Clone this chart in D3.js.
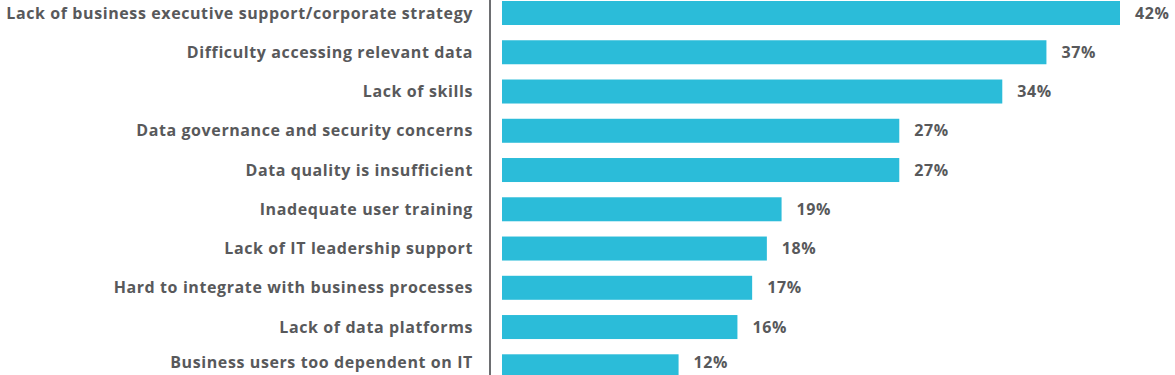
<!DOCTYPE html>
<html>
<head>
<meta charset="utf-8">
<script src="https://cdn.jsdelivr.net/npm/d3@7"></script>
<style>
  body { margin: 0; background: #fff; }
  svg text { font-family: 'Open Sans', sans-serif; font-weight: 700; fill: #58595b; letter-spacing: 0.6px; }
</style>
</head>
<body>
<div id="chart"></div>
<script>
// categories and values (percent)
const categories = [
	'Lack of business executive support/corporate strategy',
	'Difficulty accessing relevant data',
	'Lack of skills',
	'Data governance and security concerns',
	'Data quality is insufficient',
	'Inadequate user training',
	'Lack of IT leadership support',
	'Hard to integrate with business processes',
	'Lack of data platforms',
	'Business users too dependent on IT'
]
const values = [42, 37, 34, 27, 27, 19, 18, 17, 16, 12]

const width = 1175
const height = 375

const svg = d3.select('#chart')
	.append('svg')
	.attr('width', width)
	.attr('height', height)

// x scale: 0% at bar start
const x = d3.scaleLinear()
	.domain([0, 42])
	.range([502, 1120])

// y band scale, pitch ~39.25px
const y = d3.scaleBand()
	.domain(categories)
	.range([1 - 7.6, 1 - 7.6 + 39.25 * categories.length])
	.paddingInner(15.25 / 39.25)
	.paddingOuter(7.6 / 39.25)

const rows = categories.map((c, i) => ({ name: c, value: values[i] }))

// bars
svg.selectAll('.bar')
	.data(rows)
	.join('rect')
	.attr('class', 'bar')
	.attr('x', x(0))
	.attr('y', d => y(d.name))
	.attr('width', d => x(d.value) - x(0))
	.attr('height', y.bandwidth())
	.attr('fill', '#2bbcd9')

// category labels
svg.selectAll('.label')
	.data(rows)
	.join('text')
	.attr('class', 'label')
	.attr('x', 473)
	.attr('y', d => Math.min(y(d.name) + y.bandwidth() / 2, 362))
	.attr('dy', '0.35em')
	.attr('text-anchor', 'end')
	.style('font-size', '16px')
	.text(d => d.name)

// value labels
svg.selectAll('.value')
	.data(rows)
	.join('text')
	.attr('class', 'value')
	.attr('x', d => x(d.value) + 15)
	.attr('y', d => Math.min(y(d.name) + y.bandwidth() / 2, 362))
	.attr('dy', '0.35em')
	.style('font-size', '16px')
	.text(d => d.value + '%')

// vertical axis line
svg.append('line')
	.attr('x1', 490)
	.attr('x2', 490)
	.attr('y1', 0)
	.attr('y2', height)
	.attr('stroke', '#6d6e71')
	.attr('stroke-width', 2)
</script>
</body>
</html>
